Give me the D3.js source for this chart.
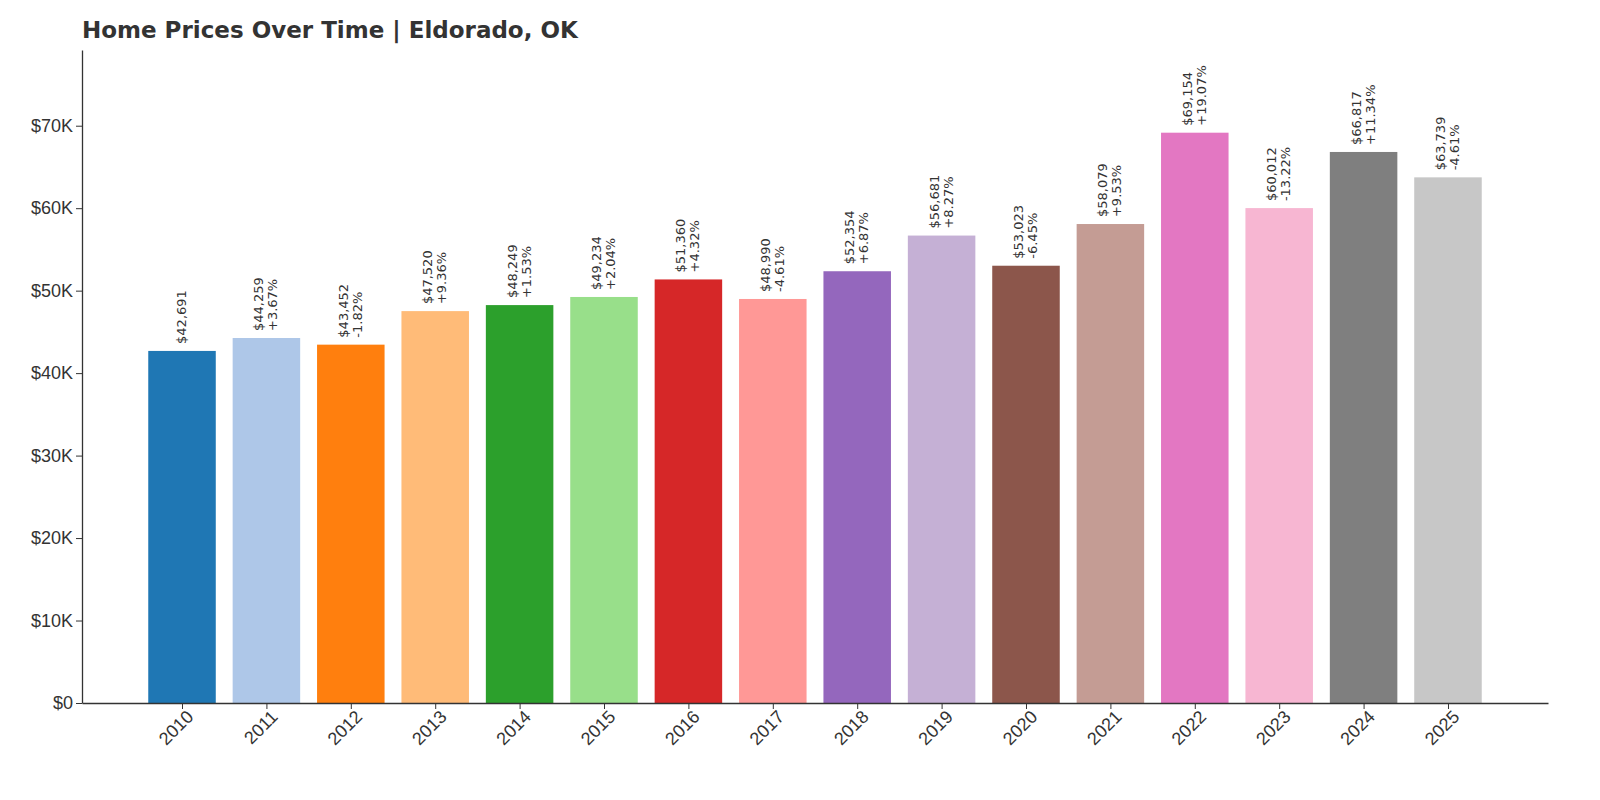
<!DOCTYPE html>
<meta charset="utf-8">
<body style="margin:0;background:#fff">
<script src="https://d3js.org/d3.v7.min.js"></script>
<script>
// data
var years = ["2010","2011","2012","2013","2014","2015","2016","2017","2018","2019","2020","2021","2022","2023","2024","2025"];
var prices = [42691,44259,43452,47520,48249,49234,51360,48990,52354,56681,53023,58079,69154,60012,66817,63739];
var changes = [null,"+3.67%","-1.82%","+9.36%","+1.53%","+2.04%","+4.32%","-4.61%","+6.87%","+8.27%","-6.45%","+9.53%","+19.07%","-13.22%","+11.34%","-4.61%"];
var colors = ["#1f77b4","#aec7e8","#ff7f0e","#ffbb78","#2ca02c","#98df8a","#d62728","#ff9896","#9467bd","#c5b0d5","#8c564b","#c49c94","#e377c2","#f7b6d2","#7f7f7f","#c7c7c7"];
var yTicks = [0,10000,20000,30000,40000,50000,60000,70000];

var mLeft = 82, mRight = 1548, mTop = 50, mBottom = 703;
var svg = d3.select("body").append("svg").attr("width",1600).attr("height",800)
  .style("font-family","DejaVu Sans").style("display","block");

var x = d3.scaleLinear().domain([-1.185, 16.185]).range([mLeft, mRight]);
var y = d3.scaleLinear().domain([0, 69154*1.145]).range([mBottom, mTop]);
var bw = x(0.8) - x(0);

svg.selectAll("rect.bar").data(prices).enter().append("rect")
  .attr("x", (d,i) => x(i) - bw/2).attr("width", bw)
  .attr("y", d => y(d)).attr("height", d => mBottom - y(d))
  .attr("fill", (d,i) => colors[i]);

// value labels
var lab = svg.selectAll("g.lab").data(prices).enter().append("g")
  .attr("transform", (d,i) => "translate(" + x(i) + "," + (y(d) - 7) + ") rotate(-90)")
  .style("font-size","13px").attr("fill","#333");
lab.append("text").attr("y", (d,i) => changes[i] ? -3 : 4)
  .text(d => "$" + d3.format(",")(d));
lab.append("text").attr("y", 11).text((d,i) => changes[i] || "");

// axes
var xa = svg.append("g").attr("transform","translate(0," + mBottom + ")")
  .call(d3.axisBottom(x).tickValues(d3.range(16)).tickFormat(i => years[i]).tickSize(6).tickSizeOuter(0));
xa.selectAll("text").style("font-size","18px").attr("fill","#333")
  .attr("text-anchor","end").attr("dx","-2px").attr("dy","10px")
  .attr("transform","rotate(-45)");
var ya = svg.append("g").attr("transform","translate(" + mLeft + ",0)")
  .call(d3.axisLeft(y).tickValues(yTicks).tickFormat(d => d ? "$" + d/1000 + "K" : "$0").tickSize(6).tickSizeOuter(0));
ya.selectAll("text").style("font-size","18px").attr("fill","#333");
svg.selectAll(".domain").attr("stroke","#333").attr("stroke-width",1.3);
svg.selectAll(".tick line").attr("stroke","#333");

svg.append("text").attr("x", mLeft).attr("y", 38)
  .style("font-size","23px").style("font-weight","bold").attr("fill","#333")
  .text("Home Prices Over Time | Eldorado, OK");
</script>
</body>
